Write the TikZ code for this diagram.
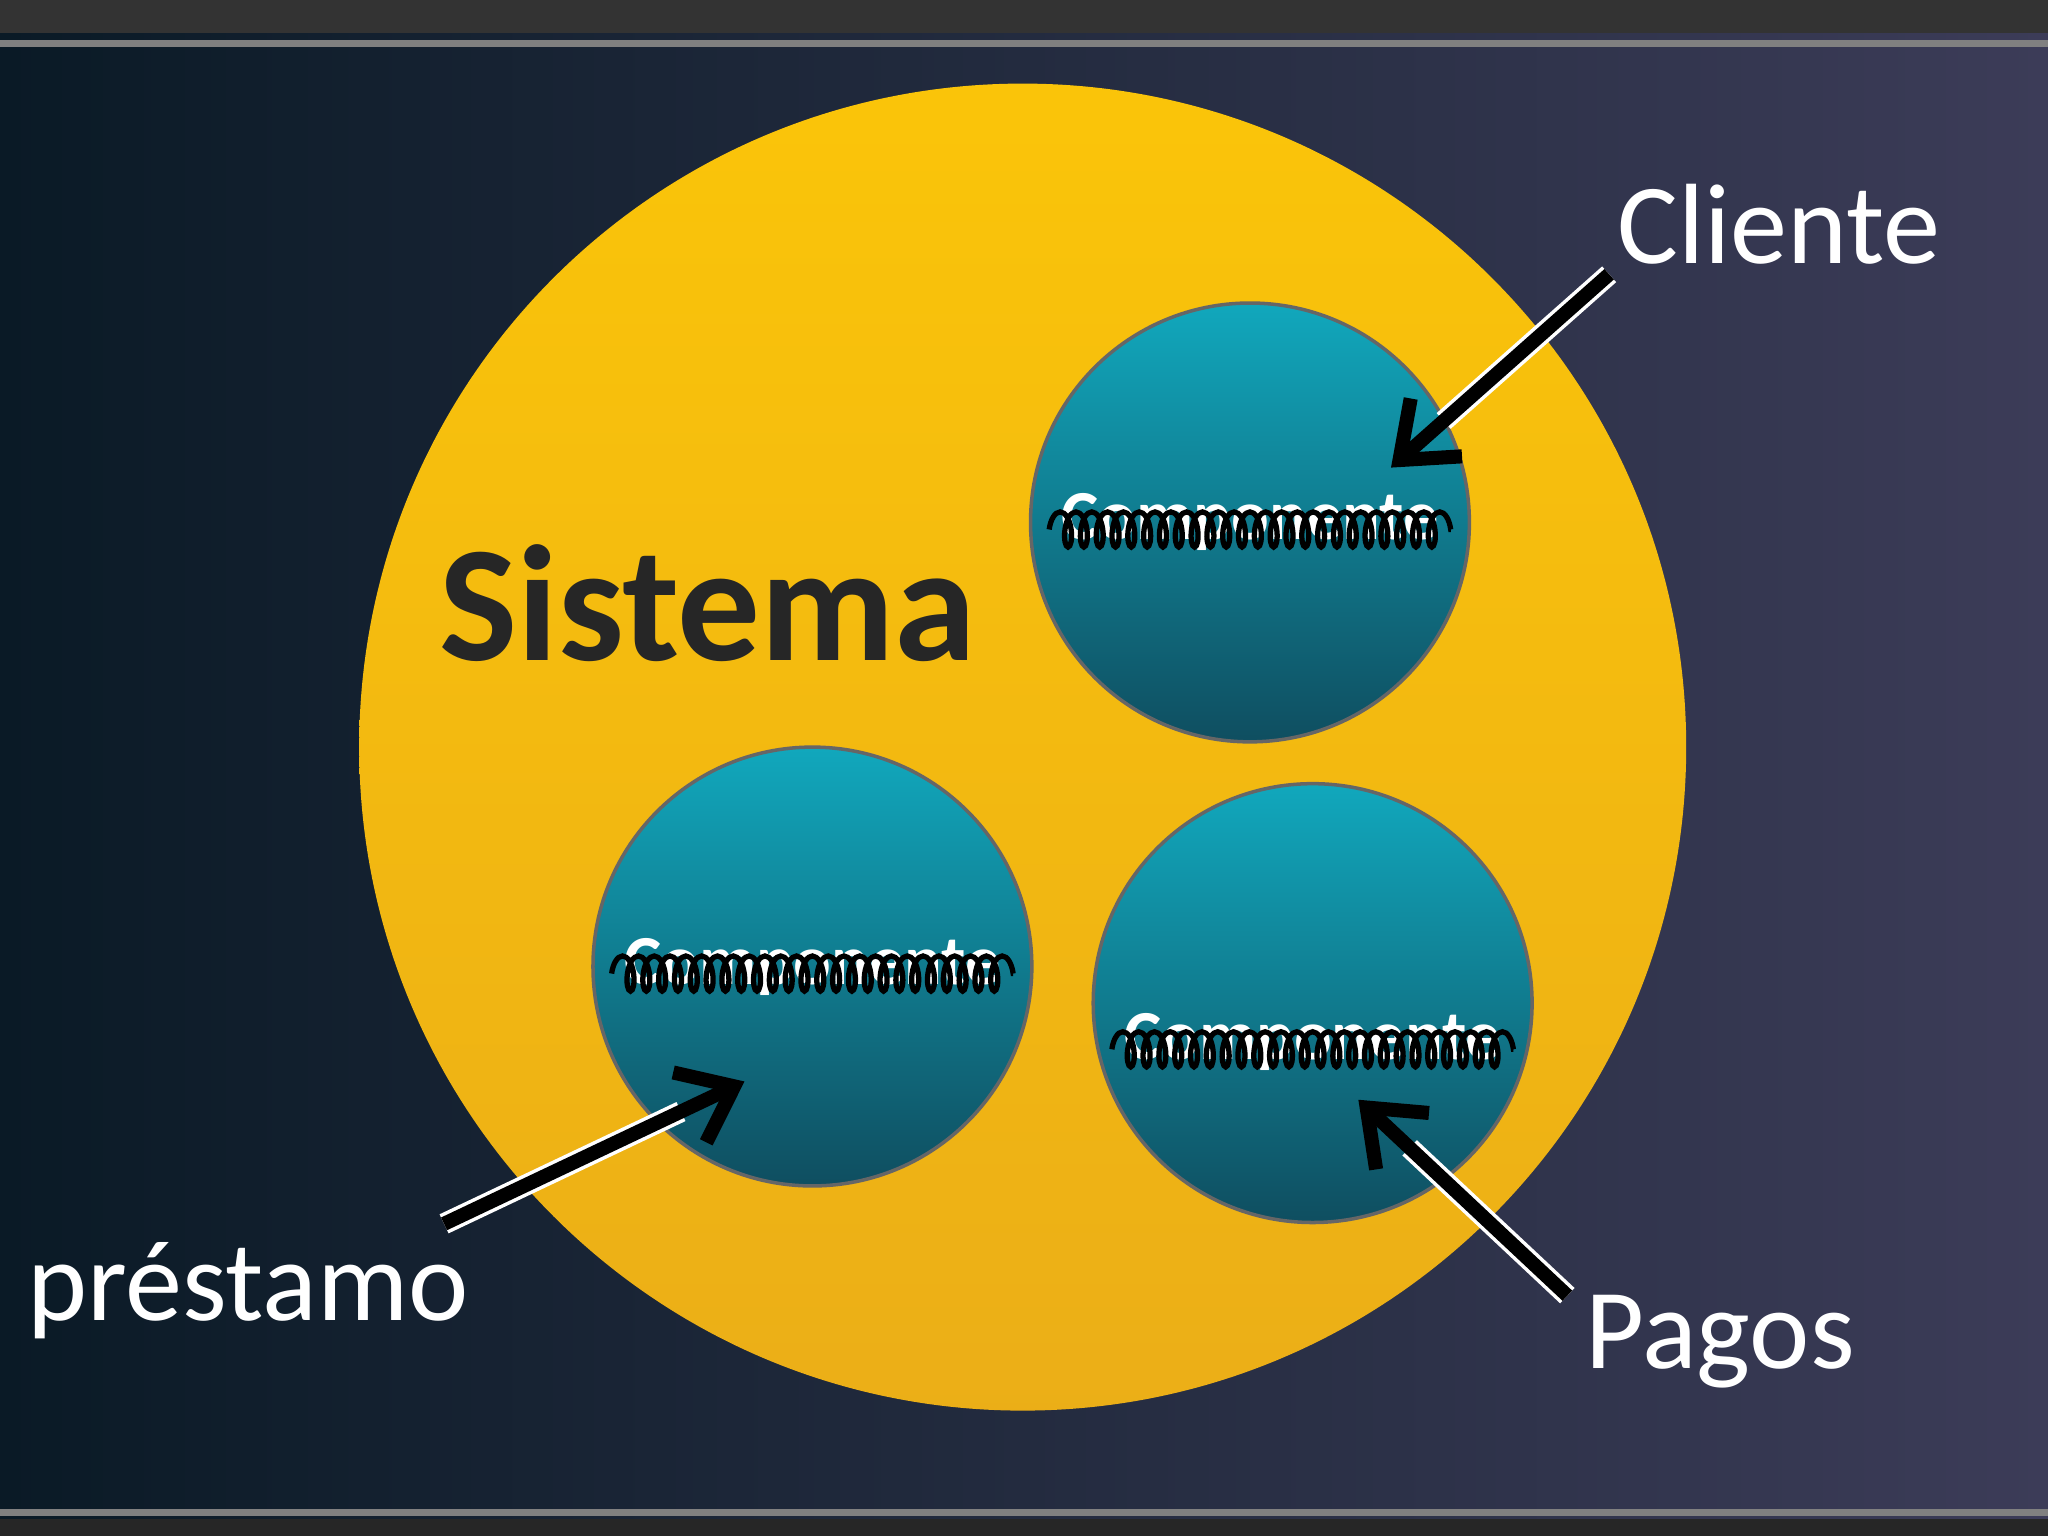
\documentclass[tikz,border=0pt]{standalone}
\usepackage{fontspec}
\setmainfont{Carlito}
\usetikzlibrary{decorations.pathmorphing,shadings,arrows.meta}
\definecolor{bgA}{RGB}{10,26,38}
\definecolor{bgB}{RGB}{60,60,88}
\definecolor{gold}{RGB}{250,190,10}
\definecolor{teal}{RGB}{25,130,160}
\tikzset{
 comp/.style={circle,minimum size=336*0.01306cm,draw=black!60,line width=1pt,top color=teal!70!cyan,bottom color=teal!60!black},
 lbl/.style={text=white,font=\fontsize{32.5}{38}\selectfont},
 compt/.style={text=white,font=\bfseries\fontsize{20}{24}\selectfont},
 arr/.style={-{Straight Barb[length=14pt,width=22pt]},line width=4pt},
}
\begin{document}
\begin{tikzpicture}[x=0.01306cm,y=-0.01306cm]
\useasboundingbox (0,0) rectangle (1568,1176);
\shade[left color=bgA,right color=bgB] (0,0) rectangle (1568,1176);
\fill[black!80] (0,0) rectangle (1568,25);
\draw[gray,line width=2pt] (0,33) -- (1568,33);
\draw[gray,line width=2pt] (0,1158) -- (1568,1158);
\fill[black!85] (0,1163) rectangle (1568,1176);
\node[circle,minimum size=1016*0.01306cm,top color=gold!90!yellow,bottom color=gold!75!brown,draw=none] (sys) at (783,572) {};
\node[font=\bfseries\fontsize{47}{54}\selectfont,text=black!85] (st) at (542,462) {Sistema};
\node[comp] (c1) at (957,400) {};
\node[comp] (c2) at (622,740) {};
\node[comp] (c3) at (1005,768) {};
\foreach \c/\dy in {c1/0,c2/0,c3/30}{
 \node[compt] (\c t) at ([yshift=-\dy*0.01306cm]\c.center) {Componente};
 \draw[black,line width=1.5pt,decorate,decoration={coil,segment length=4.5pt,amplitude=5pt,aspect=0.4}] ([yshift=-2pt]\c t.west) -- ([yshift=-2pt]\c t.east);
}
\node[lbl] (cl) at (1362,172) {Cliente};
\node[lbl] (pa) at (1317,1027) {Pagos};
\node[lbl] (pr) at (190,988) {préstamo};
\coordinate (a1) at (1232,210); \coordinate (b1) at (1065,358);
\coordinate (a2) at (340,937); \coordinate (b2) at (570,828);
\coordinate (a3) at (1200,992); \coordinate (b3) at (1040,842);
\foreach \a/\b in {a1/b1,a2/b2,a3/b3}{
 \draw[white,line width=6pt,shorten >=20pt] (\a) -- (\b);
 \draw[arr,black] (\a) -- (\b);
}
\end{tikzpicture}
\end{document}
